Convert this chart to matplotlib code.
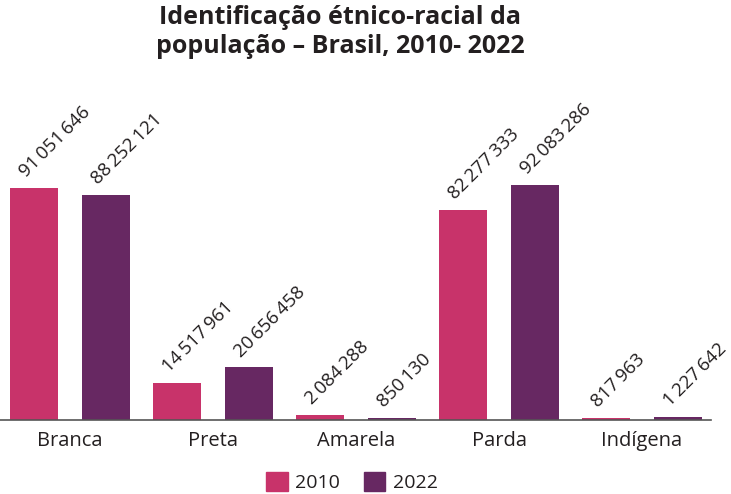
import numpy as np
import matplotlib.pyplot as plt
from matplotlib.patches import Patch

categorias = ['Branca', 'Preta', 'Amarela', 'Parda', 'Indígena']
pop_2010 = [91051646, 14517961, 2084288, 82277333, 817963]
pop_2022 = [88252121, 20656458, 850130, 92083286, 1227642]
anos = ['2010', '2022']

cor_2010 = '#C8336A'
cor_2022 = '#672862'

plt.rcParams['font.family'] = ['Open Sans', 'DejaVu Sans']

def fmt(v):
    # separador de milhar com espaco fino
    return f'{v:,}'.replace(',', '\u2009')

W, H = 731, 494
fig = plt.figure(figsize=(W / 100, H / 100), dpi=100)
# eixo em pixels: linha de base em y=420, de x=0 a 711
ax = fig.add_axes([0, (H - 420) / H, 711 / W, 360 / H])

x = np.arange(len(categorias))
larg = 48 / 143
desl = 36 / 143
v10 = np.array(pop_2010) / 1e6
v22 = np.array(pop_2022) / 1e6

ax.bar(x - desl, v10, larg, color=cor_2010, label=anos[0])
ax.bar(x + desl, v22, larg, color=cor_2022, label=anos[1])

for xs, vals, raw in [(x - desl, v10, pop_2010), (x + desl, v22, pop_2022)]:
    for xi, vi, r in zip(xs, vals, raw):
        ax.annotate(fmt(r), (xi, vi), xytext=(-6, 7), textcoords='offset points',
                    rotation=45, rotation_mode='anchor', ha='left', va='baseline',
                    fontsize=13.5, color='#231f20')

ax.set_xlim(-70 / 143, 641 / 143)
ax.set_ylim(0, 360 / 2.55)
ax.set_xticks(x)
ax.set_xticklabels(categorias, fontsize=14.5, color='#231f20')
ax.tick_params(axis='x', length=0, pad=8)
ax.set_yticks([])
for s in ['top', 'right', 'left']:
    ax.spines[s].set_visible(False)
ax.spines['bottom'].set_color('#555555')
ax.spines['bottom'].set_linewidth(1.2)
ax.patch.set_alpha(0)

fig.text(340 / W, 1 - 32 / H, 'Identificação étnico-racial da\npopulação – Brasil, 2010- 2022',
         ha='center', va='center', fontsize=18, fontweight='bold', color='#231f20',
         linespacing=1.2)

handles = [Patch(color=cor_2010), Patch(color=cor_2022)]
fig.legend(handles, anos, loc='center', bbox_to_anchor=(352 / W, 1 - 482 / H),
           ncol=2, frameon=False, fontsize=14, handlelength=1.1, handleheight=1.1,
           handletextpad=0.4, columnspacing=1.2, labelcolor='#231f20')

fig.savefig('out.png', dpi=100)
